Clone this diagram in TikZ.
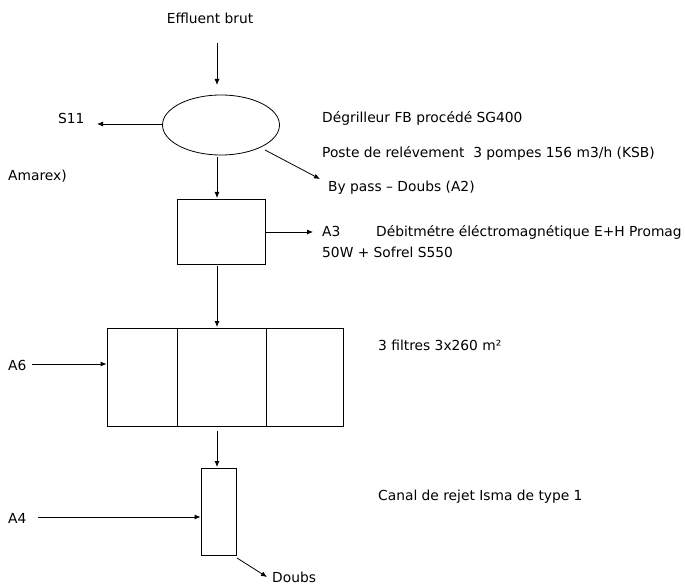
\documentclass[tikz,border=0pt]{standalone}
\usepackage{fontspec}
\setmainfont{DejaVu Sans}
\usetikzlibrary{shapes.geometric,arrows.meta}
\begin{document}
\begin{tikzpicture}[x=1pt,y=-1pt,
  lbl/.style={inner sep=0pt,font=\fontsize{13.8}{16}\selectfont},
  box/.style={draw,line width=0.8pt,inner sep=0pt},
  flow/.style={line width=0.8pt,-{Latex[length=6pt,width=5pt]}}]
\useasboundingbox (0,0) rectangle (685,585);
% texts
\node[lbl] (eff) at (210,18) {Effluent brut};
\node[lbl,anchor=west] (s11) at (58,118) {S11};
\node[lbl,anchor=west] (amarex) at (8,176) {Amarex)};
\node[lbl,anchor=west] (degr) at (322,118) {Dégrilleur FB procédé SG400};
\node[lbl,anchor=west] (poste) at (322,153) {Poste de relévement\ \ 3 pompes 156 m3/h (KSB)};
\node[lbl,anchor=west] (bypass) at (328,188) {By pass – Doubs (A2)};
\node[lbl,anchor=west] (a3) at (322,232) {\makebox[54pt][l]{A3}Débitmétre éléctromagnétique E+H Promag};
\node[lbl,anchor=west] (sofrel) at (322,252) {50W + Sofrel S550};
\node[lbl,anchor=west] (a6) at (8,365) {A6};
\node[lbl,anchor=west] (filt) at (378,345) {3 filtres 3x260 m²};
\node[lbl,anchor=west] (a4) at (8,518) {A4};
\node[lbl,anchor=west] (canal) at (378,497) {Canal de rejet Isma de type 1};
\node[lbl,anchor=west] (doubs) at (272,577) {Doubs};
% shapes
\node[draw,line width=0.8pt,ellipse,minimum width=117pt,minimum height=60pt,inner sep=0pt] (degrilleur) at (221,125) {};
\node[box,minimum width=88pt,minimum height=65pt] (debit) at (221,231.5) {};
\node[box,minimum width=236pt,minimum height=98pt] (filtres) at (225,377) {};
\coordinate (d1t) at (177,328); \coordinate (d1b) at (177,426);
\coordinate (d2t) at (266,328); \coordinate (d2b) at (266,426);
\draw[line width=0.8pt] (d1t) -- (d1b) (d2t) -- (d2b);
\node[box,minimum width=35pt,minimum height=87pt] (canalbox) at (218.5,511.5) {};
% connectors
\coordinate (effend) at (217,43);
\draw[flow] (effend) -- (217,85);
\coordinate (s11end) at (97,124);
\draw[flow] (degrilleur.west |- 0,124) -- (s11end);
\coordinate (bpstart) at (265,150);
\coordinate (bpend) at (320,179);
\draw[flow] (bpstart) -- (bpend);
\draw[flow] (217,157) -- (217,198);
\coordinate (a3end) at (313,232);
\draw[flow] (debit.east |- a3end) -- (a3end);
\draw[flow] (217,266) -- (217,327);
\coordinate (a6start) at (32,364);
\draw[flow] (a6start) -- (filtres.west |- a6start);
\draw[flow] (217,431) -- (217,467);
\coordinate (a4start) at (38,517);
\draw[flow] (a4start) -- (canalbox.west |- a4start);
\coordinate (dstart) at (237,558);
\coordinate (dend) at (267,577);
\draw[flow] (dstart) -- (dend);
\end{tikzpicture}
\end{document}
